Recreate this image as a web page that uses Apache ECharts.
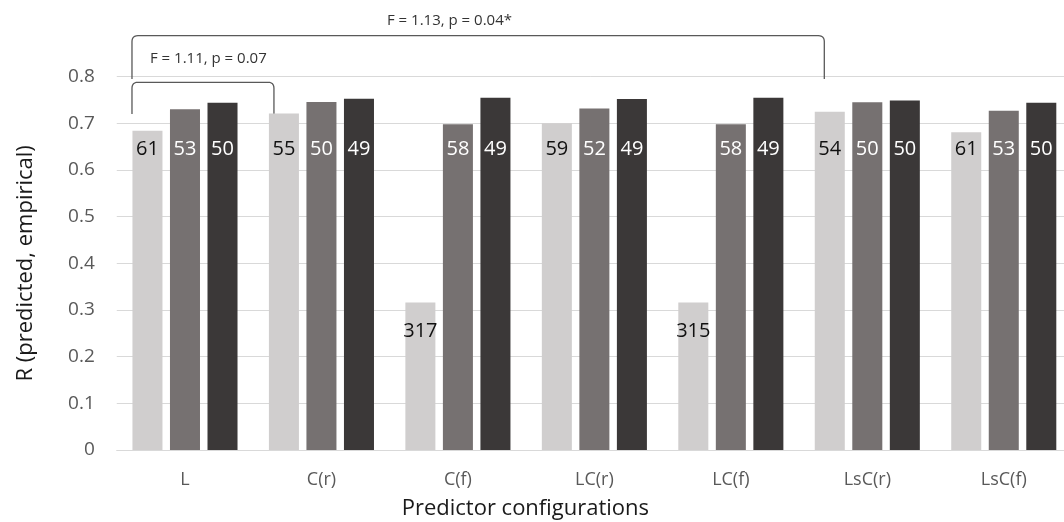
<!DOCTYPE html>
<html>
<head>
<meta charset="utf-8">
<script src="https://cdn.jsdelivr.net/npm/echarts@6/dist/echarts.min.js"></script>
<style>
html,body{margin:0;padding:0;background:#fff;}
#chart{width:1064px;height:522px;}
</style>
</head>
<body>
<div id="chart"></div>
<script>
// ---- data ----
const categories = ['L', 'C(r)', 'C(f)', 'LC(r)', 'LC(f)', 'LsC(r)', 'LsC(f)'];
const rLight = [0.684, 0.721, 0.316, 0.700, 0.316, 0.725, 0.681];
const rMid   = [0.730, 0.746, 0.698, 0.732, 0.698, 0.745, 0.727];
const rDark  = [0.744, 0.753, 0.755, 0.752, 0.755, 0.749, 0.744];
const nLight = [61, 55, 317, 59, 315, 54, 61];
const nMid   = [53, 50, 58, 52, 58, 50, 53];
const nDark  = [50, 49, 49, 49, 49, 50, 50];
const yMin = 0, yMax = 0.8, yStep = 0.1;
const testSmall = 'F = 1.11, p = 0.07';
const testBig = 'F = 1.13, p = 0.04*';

// ---- style constants ----
const FONT = '"Open Sans", "Noto Sans", sans-serif';
const COLORS = ['#d0cece', '#767171', '#3b3838'];
const LABEL_COLORS = ['#111111', '#ffffff', '#ffffff'];
const LABEL_LEVEL = 0.644;   // value level where labels of tall bars sit
const SHORT_DROP = 0.061;    // labels of short bars sit this far below their top

const chart = echarts.init(document.getElementById('chart'), null, {renderer: 'canvas'});

function makeSeries(name, values, counts, idx, pxPerUnit) {
  return {
    name: name,
    type: 'bar',
    barGap: '25%',
    barCategoryGap: '23%',
    itemStyle: {color: COLORS[idx]},
    data: values.map(function (v) {
      const level = v > LABEL_LEVEL + 0.02 ? LABEL_LEVEL : v - SHORT_DROP;
      const off = pxPerUnit ? (v - level) * pxPerUnit : 20;
      return {value: v, label: {position: ['50%', off]}};
    }),
    label: {
      show: true,
      align: 'center',
      verticalAlign: 'middle',
      fontFamily: FONT,
      fontSize: 20,
      color: LABEL_COLORS[idx],
      formatter: function (p) { return String(counts[p.dataIndex]); }
    }
  };
}

function buildOption(pxPerUnit) {
  return {
    animation: false,
    backgroundColor: '#ffffff',
    grid: {left: 116.75, right: -8, top: 76.7, bottom: 72, containLabel: false, outerBoundsMode: 'none'},
    xAxis: {
      type: 'category',
      data: categories,
      axisTick: {show: false},
      axisLine: {lineStyle: {color: '#d9d9d9', width: 1}},
      axisLabel: {color: '#595959', fontFamily: FONT, fontSize: 18, margin: 21},
      name: 'Predictor configurations',
      nameLocation: 'middle',
      nameGap: 48,
      nameTextStyle: {color: '#1a1a1a', fontFamily: FONT, fontSize: 22, padding: [0, 138, 0, 0]}
    },
    yAxis: {
      type: 'value',
      min: yMin, max: yMax, interval: yStep,
      axisLine: {show: false},
      axisTick: {show: false},
      splitLine: {lineStyle: {color: '#d9d9d9', width: 1}},
      axisLabel: {color: '#595959', fontFamily: FONT, fontSize: 19, margin: 22},
      name: 'R (predicted, empirical)',
      nameLocation: 'middle',
      nameGap: 80,
      nameTextStyle: {color: '#1a1a1a', fontFamily: FONT, fontSize: 22}
    },
    series: [
      makeSeries('light', rLight, nLight, 0, pxPerUnit),
      makeSeries('mid', rMid, nMid, 1, pxPerUnit),
      makeSeries('dark', rDark, nDark, 2, pxPerUnit)
    ]
  };
}

chart.setOption(buildOption(null));
const y0 = chart.convertToPixel({yAxisIndex: 0}, 0);
const y1 = chart.convertToPixel({yAxisIndex: 0}, 1);
const pxPerUnit = y0 - y1;
chart.setOption(buildOption(pxPerUnit), true);

// ---- significance brackets, placed via the axes ----
function px(cat) { return chart.convertToPixel({xAxisIndex: 0}, cat); }
function py(v) { return chart.convertToPixel({yAxisIndex: 0}, v); }
function quad(p0, c, p1, out) {
  for (let i = 1; i <= 6; i++) {
    const t = i / 6, u = 1 - t;
    out.push([u * u * p0[0] + 2 * u * t * c[0] + t * t * p1[0],
              u * u * p0[1] + 2 * u * t * c[1] + t * t * p1[1]]);
  }
}
function bracketPoints(x1, x2, yTop, yBot1, yBot2) {
  const r = 6;
  const pts = [[x1, yBot1], [x1, yTop + r]];
  quad([x1, yTop + r], [x1, yTop], [x1 + r, yTop], pts);
  pts.push([x2 - r, yTop]);
  quad([x2 - r, yTop], [x2, yTop], [x2, yTop + r], pts);
  pts.push([x2, yBot2]);
  return pts;
}
const xL = px('L') - 53;
const xSmallR = px('C(r)') - 47.5;
const xBigR = px('LsC(r)') - 43;
const lineStyle = {stroke: '#595959', lineWidth: 1.3, fill: null};
chart.setOption({
  graphic: [
    {type: 'polyline', shape: {points: bracketPoints(xL, xSmallR, py(0.788), py(0.72), py(0.716))}, style: lineStyle, silent: true},
    {type: 'polyline', shape: {points: bracketPoints(xL, xBigR, py(0.888), py(0.795), py(0.795))}, style: lineStyle, silent: true},
    {type: 'text', x: xL + 18, y: py(0.8375), style: {text: testSmall, fill: '#333333', font: '15px ' + FONT, verticalAlign: 'middle', align: 'left'}, silent: true},
    {type: 'text', x: xL + 255, y: py(0.9195), style: {text: testBig, fill: '#333333', font: '15px ' + FONT, verticalAlign: 'middle', align: 'left'}, silent: true}
  ]
});
</script>
</body>
</html>
